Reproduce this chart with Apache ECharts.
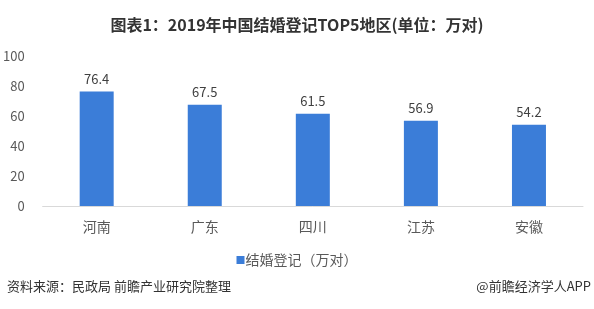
<!DOCTYPE html>
<html><head><meta charset="utf-8">
<script src="https://cdn.jsdelivr.net/npm/echarts@6/dist/echarts.min.js"></script>
<style>html,body{margin:0;padding:0;background:#fff}#c{width:594px;height:309px}</style>
</head><body><div id="c"></div>
<script>
const categories = ['河南', '广东', '四川', '江苏', '安徽'];
const values = [76.4, 67.5, 61.5, 56.9, 54.2];
const seriesName = '结婚登记（万对）';
const titleText = '图表1：2019年中国结婚登记TOP5地区(单位：万对)';
const sourceText = '资料来源：民政局 前瞻产业研究院整理';
const brandText = '@前瞻经济学人APP';
const FONT = '"Noto Sans CJK SC", "Noto Sans", sans-serif';

const chart = echarts.init(document.getElementById('c'));
chart.setOption({
  animation: false,
  backgroundColor: '#fff',
  textStyle: { fontFamily: FONT },
  title: {
    text: titleText, left: 'center', top: 12,
    textStyle: { fontSize: 16, fontWeight: 'bold', color: '#333', fontFamily: FONT }
  },
  graphic: [
    { type: 'text', left: 7, top: 280, style: { text: sourceText, font: '13px ' + FONT, fill: '#333' } },
    { type: 'text', right: 3, top: 280, style: { text: brandText, font: '13px ' + FONT, fill: '#333' } }
  ],
  legend: {
    data: [seriesName], top: 248, left: 'center',
    itemWidth: 8, itemHeight: 8, icon: 'rect',
    textStyle: { fontSize: 14, color: '#595959', padding: [0, 0, 0, -4], fontFamily: FONT }
  },
  grid: { left: 40, right: 11, top: 56, height: 150, containLabel: false },
  xAxis: {
    type: 'category', data: categories,
    axisLine: { lineStyle: { color: '#d9d9d9' } },
    axisTick: { show: false },
    axisLabel: { fontSize: 14, color: '#595959', margin: 14, fontFamily: FONT }
  },
  yAxis: {
    type: 'value', min: 0, max: 100, interval: 20,
    axisLine: { show: false }, axisTick: { show: false },
    splitLine: { show: false },
    axisLabel: { fontSize: 13, color: '#595959', margin: 18, fontFamily: FONT }
  },
  series: [{
    name: seriesName, type: 'bar', data: values, barWidth: 34,
    itemStyle: { color: '#3b7dd8' },
    label: { show: true, position: 'top', distance: 6, fontSize: 13, color: '#404040', fontFamily: FONT }
  }]
});
</script></body></html>
